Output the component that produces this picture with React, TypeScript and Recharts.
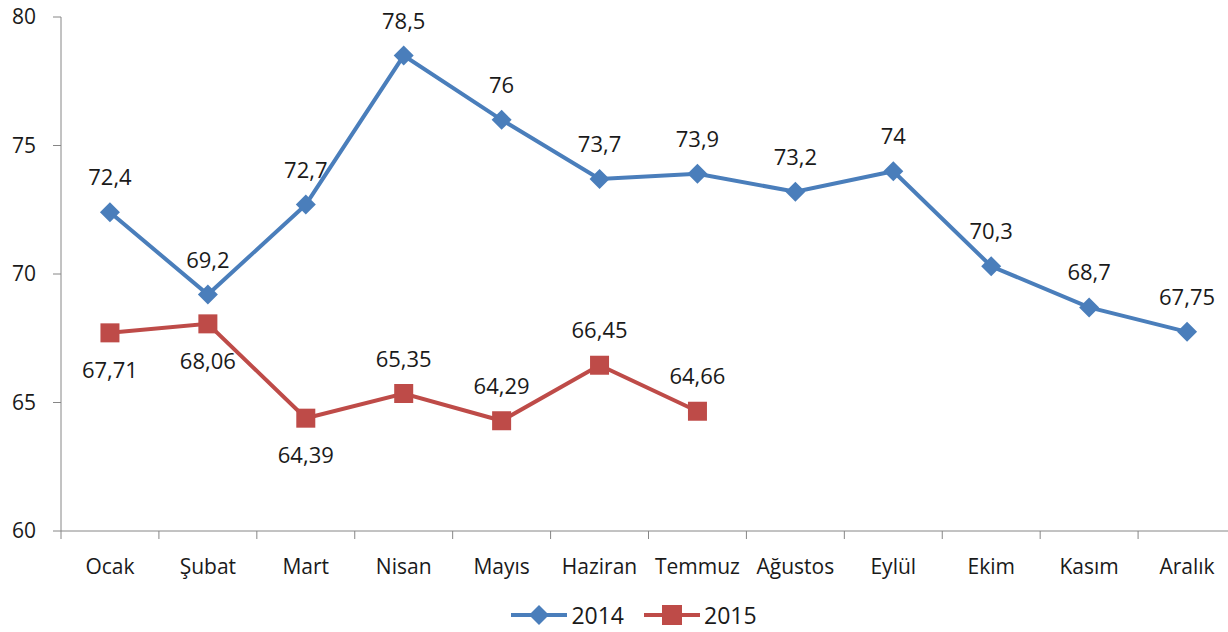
import React from 'react';
import { LineChart, Line, XAxis, YAxis, Legend } from 'recharts';

const months = ['Ocak', 'Şubat', 'Mart', 'Nisan', 'Mayıs', 'Haziran', 'Temmuz', 'Ağustos', 'Eylül', 'Ekim', 'Kasım', 'Aralık'];
const values2014 = [72.4, 69.2, 72.7, 78.5, 76, 73.7, 73.9, 73.2, 74, 70.3, 68.7, 67.75];
const values2015 = [67.71, 68.06, 64.39, 65.35, 64.29, 66.45, 64.66, null, null, null, null, null];
const yTicks = [60, 65, 70, 75, 80];

// where each 2015 label sits relative to its point
const labelSide2015 = ['below', 'below', 'below', 'above', 'above', 'above', 'above'];

const BLUE = '#4A7EBB';
const RED = '#BE4B48';
const AXIS = '#868686';
const TEXT = '#1a1a1a';
const FONT = '"Open Sans", sans-serif';

const CHART_W = 1236;
const CHART_H = 632;
const Y_AXIS_W = 61;
const BAND = (CHART_W - Y_AXIS_W) / months.length;

const data = months.map((m, i) => ({ month: m, y2014: values2014[i], y2015: values2015[i] }));

const fmt = (v: number) => String(v).replace('.', ',');

const Diamond = (props: any) => {
  const { cx, cy, index } = props;
  if (cx == null || cy == null) return <g key={`d-${index}`} />;
  const r = 10;
  return <path key={`d-${index}`} d={`M${cx},${cy - r}L${cx + r},${cy}L${cx},${cy + r}L${cx - r},${cy}Z`} fill={BLUE} />;
};

const Square = (props: any) => {
  const { cx, cy, index } = props;
  if (cx == null || cy == null) return <g key={`s-${index}`} />;
  const s = 19;
  return <rect key={`s-${index}`} x={cx - s / 2} y={cy - s / 2} width={s} height={s} fill={RED} />;
};

const Label2014 = (props: any) => {
  const { x, y, value, index } = props;
  if (value == null) return null;
  return (
    <text key={`l14-${index}`} x={x} y={y - 27} textAnchor="middle" fill={TEXT} fontSize={22} fontFamily={FONT}>
      {fmt(value)}
    </text>
  );
};

const Label2015 = (props: any) => {
  const { x, y, value, index } = props;
  if (value == null) return null;
  const below = labelSide2015[index] === 'below';
  return (
    <text key={`l15-${index}`} x={x} y={below ? y + 45 : y - 27} textAnchor="middle" fill={TEXT} fontSize={22} fontFamily={FONT}>
      {fmt(value)}
    </text>
  );
};

const MonthTick = (props: any) => {
  const { x, y, payload, index } = props;
  const last = index === months.length - 1;
  return (
    <g>
      <line x1={x - BAND / 2} y1={y} x2={x - BAND / 2} y2={y + 8} stroke={AXIS} />
      {last && <line x1={x + BAND / 2} y1={y} x2={x + BAND / 2} y2={y + 8} stroke={AXIS} />}
      <text x={x} y={y + 43} textAnchor="middle" fill={TEXT} fontSize={21} fontFamily={FONT}>
        {payload.value}
      </text>
    </g>
  );
};

const LegendBox = () => {
  const item = (color: string, label: string, square: boolean) => (
    <div style={{ display: 'flex', alignItems: 'center', marginRight: 20 }}>
      <svg width={56} height={22} style={{ marginRight: 4 }}>
        <line x1={0} y1={11} x2={56} y2={11} stroke={color} strokeWidth={4} />
        {square ? (
          <rect x={18} y={1} width={20} height={20} fill={color} />
        ) : (
          <path d="M28,1L38,11L28,21L18,11Z" fill={color} />
        )}
      </svg>
      <span style={{ fontSize: 23, fontFamily: FONT, color: TEXT }}>{label}</span>
    </div>
  );
  return (
    <div style={{ height: 34, display: 'flex', justifyContent: 'center', alignItems: 'center', paddingLeft: 52 }}>
      {item(BLUE, '2014', false)}
      {item(RED, '2015', true)}
    </div>
  );
};

export default function App() {
  return (
    <div style={{ position: 'absolute', left: 0, top: 0, width: 1228, height: CHART_H, overflow: 'hidden', background: '#fff' }}>
      <LineChart width={CHART_W} height={CHART_H} data={data} margin={{ top: 17, right: 0, left: 0, bottom: 0 }}>
        <XAxis
          dataKey="month"
          height={67}
          stroke={AXIS}
          tickLine={false}
          tickSize={0}
          tickMargin={0}
          interval={0}
          padding={{ left: BAND / 2, right: BAND / 2 }}
          tick={<MonthTick />}
        />
        <YAxis
          domain={[60, 80]}
          ticks={yTicks}
          width={Y_AXIS_W}
          stroke={AXIS}
          tickSize={8}
          tickMargin={17}
          tick={{ fill: TEXT, fontSize: 21, fontFamily: FONT }}
        />
        <Legend verticalAlign="bottom" content={<LegendBox />} wrapperStyle={{ height: 34 }} />
        <Line
          dataKey="y2014"
          name="2014"
          stroke={BLUE}
          strokeWidth={4}
          dot={<Diamond />}
          activeDot={false}
          label={<Label2014 />}
          isAnimationActive={false}
        />
        <Line
          dataKey="y2015"
          name="2015"
          stroke={RED}
          strokeWidth={4}
          dot={<Square />}
          activeDot={false}
          label={<Label2015 />}
          isAnimationActive={false}
        />
      </LineChart>
    </div>
  );
}
